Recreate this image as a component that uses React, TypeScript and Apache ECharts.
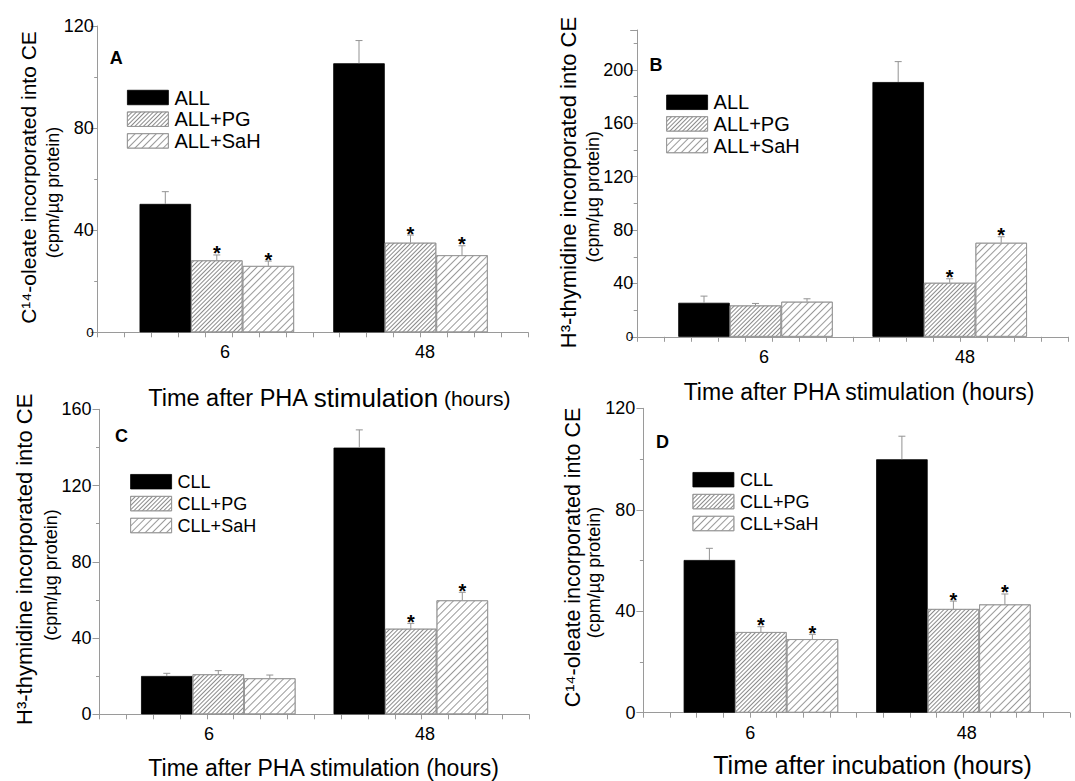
import React, { useEffect, useRef } from 'react';
import * as echarts from 'echarts';

const FONT = '"Liberation Sans", Arial, Helvetica, sans-serif';
const GROUPS = ['6', '48'];
const NAMES_ALL = ['ALL', 'ALL+PG', 'ALL+SaH'];
const NAMES_CLL = ['CLL', 'CLL+PG', 'CLL+SaH'];

// Panel A: C14-oleate, ALL, PHA stimulation
const A_ALL = [50.3, 105.4];
const A_ALL_ERR = [4.8, 8.9];
const A_PG = [28.2, 35.1];
const A_PG_ERR = [2.1, 3.0];
const A_SAH = [26.0, 30.2];
const A_SAH_ERR = [1.9, 3.7];
const A_ALL_STAR = [0, 0];
const A_PG_STAR = [1, 1];
const A_SAH_STAR = [1, 1];

// Panel B: H3-thymidine, ALL, PHA stimulation
const B_ALL = [25.5, 191.0];
const B_ALL_ERR = [5.0, 15.3];
const B_PG = [23.5, 40.5];
const B_PG_ERR = [1.5, 3.0];
const B_SAH = [26.3, 70.5];
const B_SAH_ERR = [2.2, 4.5];
const B_ALL_STAR = [0, 0];
const B_PG_STAR = [0, 1];
const B_SAH_STAR = [0, 1];

// Panel C: H3-thymidine, CLL, PHA stimulation
const C_CLL = [20.1, 139.9];
const C_CLL_ERR = [1.4, 9.3];
const C_PG = [21.0, 44.9];
const C_PG_ERR = [1.9, 2.8];
const C_SAH = [18.9, 59.8];
const C_SAH_ERR = [1.7, 4.2];
const C_CLL_STAR = [0, 0];
const C_PG_STAR = [0, 1];
const C_SAH_STAR = [0, 1];

// Panel D: C14-oleate, CLL, incubation
const D_CLL = [60.2, 99.9];
const D_CLL_ERR = [4.6, 9.1];
const D_PG = [31.8, 40.9];
const D_PG_ERR = [2.1, 3.1];
const D_SAH = [29.0, 42.7];
const D_SAH_ERR = [1.9, 4.1];
const D_CLL_STAR = [0, 0];
const D_PG_STAR = [1, 1];
const D_SAH_STAR = [1, 1];

const Y_MAX = { A: 120, B: 230, C: 160, D: 120 };
const Y_STEP = 40;

const OLEATE = 'C\u00B9\u2074-oleate incorporated into CE';
const THYMIDINE = 'H\u00B3-thymidine incorporated into CE';
const UNIT = '(cpm/\u00B5g protein)';
const X_PHA = 'Time after PHA stimulation (hours)';
const X_INC = 'Time after incubation (hours)';

const AXIS = '#9a9a9a';
const BORDER = '#939393';
const BAR_W = 51.5;

const STYLES = [
  { color: '#000', borderColor: '#000', borderWidth: 0.8 },
  {
    color: '#fff', borderColor: BORDER, borderWidth: 0.8,
    decal: { symbol: 'rect', symbolSize: 1, dashArrayX: [1, 0], dashArrayY: [0.8, 1.9], rotation: -Math.PI / 4, color: '#8a8a8a' },
  },
  {
    color: '#fff', borderColor: BORDER, borderWidth: 0.8,
    decal: { symbol: 'rect', symbolSize: 1, dashArrayX: [1, 0], dashArrayY: [0.8, 3.4], rotation: -Math.PI / 4, color: '#9a9a9a' },
  },
];

const panels = [
  {
    key: 'A', names: NAMES_ALL, values: [A_ALL, A_PG, A_SAH], errs: [A_ALL_ERR, A_PG_ERR, A_SAH_ERR],
    stars: [A_ALL_STAR, A_PG_STAR, A_SAH_STAR], yMax: Y_MAX.A, smallZero: true, labelMargin: 4,
    L: 97.7, R: 528, T: 26, B: 332.3, groups: [216.8, 410.5], labels: [225, 425],
    legend: { left: 127, top: 87.5, font: 20, gap: 1.7 }, letter: [116.3, 57.5],
    yMain: { text: OLEATE, x: 28, y: 177.5, size: 21 }, ySub: { x: 53, y: 192.5, size: 18 },
    xTitle: { x: 329, y: 398.3, rich: true, text: X_PHA, size: 23 },
  },
  {
    key: 'B', names: NAMES_ALL, values: [B_ALL, B_PG, B_SAH], errs: [B_ALL_ERR, B_PG_ERR, B_SAH_ERR],
    stars: [B_ALL_STAR, B_PG_STAR, B_SAH_STAR], yMax: Y_MAX.B, smallZero: true, hideMax: true, labelMargin: 4,
    L: 637.2, R: 1068.3, T: 30, B: 336.8, groups: [755.5, 949.7], labels: [764, 965],
    legend: { left: 666.2, top: 92.3, font: 20, gap: 1.6 }, letter: [656, 64.5],
    yMain: { text: THYMIDINE, x: 568, y: 182.5, size: 22 }, ySub: { x: 593, y: 196.7, size: 18 },
    xTitle: { x: 859, y: 391.7, text: X_PHA, size: 23 },
  },
  {
    key: 'C', names: NAMES_CLL, values: [C_CLL, C_PG, C_SAH], errs: [C_CLL_ERR, C_PG_ERR, C_SAH_ERR],
    stars: [C_CLL_STAR, C_PG_STAR, C_SAH_STAR], yMax: Y_MAX.C, labelMargin: 8,
    L: 99.5, R: 529, T: 409.3, B: 714.3, groups: [218.3, 410.8], labels: [209, 425],
    legend: { left: 130.2, top: 472.7, font: 18, gap: 3.9 }, letter: [121.4, 436.3],
    yMain: { text: THYMIDINE, x: 24.5, y: 559.3, size: 22 }, ySub: { x: 50.8, y: 575, size: 18 },
    xTitle: { x: 323.7, y: 768.3, text: X_PHA, size: 23 },
  },
  {
    key: 'D', names: NAMES_CLL, values: [D_CLL, D_PG, D_SAH], errs: [D_CLL_ERR, D_PG_ERR, D_SAH_ERR],
    stars: [D_CLL_STAR, D_PG_STAR, D_SAH_STAR], yMax: Y_MAX.D, labelMargin: 8,
    L: 643.4, R: 1069.8, T: 408.3, B: 712.7, groups: [760.9, 953.4], labels: [751.5, 970.6],
    legend: { left: 692.5, top: 470.7, font: 18, gap: 3.9 }, letter: [662.5, 442],
    yMain: { text: OLEATE, x: 573.3, y: 557.5, size: 21.5 }, ySub: { x: 593.7, y: 572.5, size: 18 },
    xTitle: { x: 872.6, y: 765, text: X_INC, size: 25 },
  },
];

function fontStr(size: number, bold?: boolean) {
  return `${bold ? 'bold ' : ''}${size}px ${FONT}`;
}

function textEl(text: string, x: number, y: number, size: number, extra: any = {}) {
  const style: any = {
    text, fill: '#000', font: fontStr(size, extra.bold),
    fontSize: size, fontFamily: FONT, fontWeight: extra.bold ? 'bold' : 'normal',
    align: 'center', verticalAlign: 'middle', textAlign: 'center', textVerticalAlign: 'middle',
    legacy: false,
  };
  if (extra.rich) style.rich = extra.rich;
  return { type: 'text', x, y, rotation: extra.rotation || 0, z: 10, style };
}

function buildOption() {
  const grid: any[] = [];
  const xAxis: any[] = [];
  const yAxis: any[] = [];
  const series: any[] = [];
  const legend: any[] = [];
  const graphic: any[] = [];

  panels.forEach((p) => {
    // frame grid (visible axes)
    const gF = grid.length;
    grid.push({ left: p.L, top: p.T, width: p.R - p.L, height: p.B - p.T });
    xAxis.push({
      gridIndex: gF, type: 'value', min: 0, max: 16, interval: 1,
      axisLine: { show: true, onZero: false, lineStyle: { color: AXIS, width: 1 } },
      axisTick: { show: true, length: 5, lineStyle: { color: AXIS } },
      axisLabel: { show: false }, splitLine: { show: false },
    });
    yAxis.push({
      gridIndex: gF, type: 'value', min: 0, max: p.yMax, interval: Y_STEP,
      axisLine: { show: true, lineStyle: { color: AXIS, width: 1 } },
      axisTick: { show: true, length: 7, lineStyle: { color: AXIS } },
      minorTick: { show: true, splitNumber: 2, length: 3.5, lineStyle: { color: AXIS } },
      splitLine: { show: false }, minorSplitLine: { show: false },
      axisLabel: {
        color: '#000', fontSize: 18, fontFamily: FONT, margin: p.labelMargin,
        showMaxLabel: !p.hideMax,
        formatter: (v: number) => (v === 0 && p.smallZero ? '{s|0}' : String(v)),
        rich: { s: { fontSize: 13.5, fontFamily: FONT, color: '#000' } },
      },
    });

    // bar grid (hidden axes)
    const gB = grid.length;
    const [c1, c2] = p.groups;
    grid.push({ left: c1 - (c2 - c1) / 2, top: p.T, width: 2 * (c2 - c1), height: p.B - p.T });
    xAxis.push({ gridIndex: gB, type: 'category', data: GROUPS, show: false });
    yAxis.push({ gridIndex: gB, type: 'value', min: 0, max: p.yMax, show: false });

    // label grid (category labels only)
    const gL = grid.length;
    const [l1, l2] = p.labels;
    grid.push({ left: l1 - (l2 - l1) / 2, top: p.T, width: 2 * (l2 - l1), height: p.B - p.T });
    xAxis.push({
      gridIndex: gL, type: 'category', data: GROUPS,
      axisLine: { show: false }, axisTick: { show: false },
      axisLabel: { color: '#000', fontSize: 18, fontFamily: FONT, margin: 11 },
    });
    yAxis.push({ gridIndex: gL, type: 'value', min: 0, max: p.yMax, show: false });

    const errRows: any[] = [];
    p.names.forEach((name, k) => {
      series.push({
        type: 'bar', name, xAxisIndex: gB, yAxisIndex: gB,
        data: p.values[k], barWidth: BAR_W, barGap: '0%',
        itemStyle: STYLES[k], emphasis: { disabled: true }, z: 2,
      });
      p.values[k].forEach((v, i) => errRows.push([i, v, p.errs[k][i], p.stars[k][i], k]));
    });

    series.push({
      type: 'custom', xAxisIndex: gB, yAxisIndex: gB, z: 5, silent: true,
      data: errRows, encode: { x: 0, y: 1 },
      renderItem: (params: any, api: any) => {
        const cat = api.value(0);
        const v = api.value(1);
        const e = api.value(2);
        const star = api.value(3);
        const k = api.value(4);
        const p0 = api.coord([cat, v]);
        const p1 = api.coord([cat, v + e]);
        const x = p0[0] + (k - 1) * BAR_W;
        const children: any[] = [
          { type: 'line', shape: { x1: x, y1: p0[1], x2: x, y2: p1[1] }, style: { stroke: BORDER, lineWidth: 1 } },
          { type: 'line', shape: { x1: x - 3.5, y1: p1[1], x2: x + 3.5, y2: p1[1] }, style: { stroke: BORDER, lineWidth: 1 } },
        ];
        if (star) {
          children.push({
            type: 'text', x, y: p1[1] - 1.5,
            style: {
              text: '*', fill: '#000', font: fontStr(20, true), fontSize: 20, fontWeight: 'bold', fontFamily: FONT,
              align: 'center', verticalAlign: 'middle', textAlign: 'center', textVerticalAlign: 'middle',
              legacy: false,
            },
          });
        }
        return { type: 'group', children };
      },
    });

    legend.push({
      orient: 'vertical', left: p.legend.left, top: p.legend.top, padding: 0,
      itemWidth: 41, itemHeight: 14.5, itemGap: p.legend.gap, icon: 'rect',
      data: p.names, selectedMode: false,
      itemStyle: { borderWidth: 0.8 },
      textStyle: { fontSize: p.legend.font, fontFamily: FONT, color: '#000', padding: [0, 0, 0, 1] },
    });

    graphic.push(textEl(p.key, p.letter[0], p.letter[1], 18, { bold: true }));
    graphic.push(textEl(p.yMain.text, p.yMain.x, p.yMain.y, p.yMain.size, { rotation: Math.PI / 2 }));
    graphic.push(textEl(UNIT, p.ySub.x, p.ySub.y, p.ySub.size, { rotation: Math.PI / 2 }));
    if (p.xTitle.rich) {
      graphic.push(textEl('{a|Time after PHA }{b|stimulation}{c| (hours)}', p.xTitle.x, p.xTitle.y, 23, {
        rich: {
          a: { fontSize: 23.5, fontFamily: FONT, fill: '#000' },
          b: { fontSize: 26, fontFamily: FONT, fill: '#000' },
          c: { fontSize: 21, fontFamily: FONT, fill: '#000' },
        },
      }));
    } else {
      graphic.push(textEl(p.xTitle.text, p.xTitle.x, p.xTitle.y, p.xTitle.size));
    }
  });

  return {
    animation: false,
    backgroundColor: '#fff',
    grid, xAxis, yAxis, series, legend, graphic,
  };
}

export default function App() {
  const ref = useRef<HTMLDivElement>(null);
  useEffect(() => {
    if (!ref.current) return;
    const chart = echarts.init(ref.current, undefined, { renderer: 'svg' });
    chart.setOption(buildOption() as any);
    return () => chart.dispose();
  }, []);
  return (
    <div
      ref={ref}
      style={{ position: 'fixed', left: 0, top: 0, width: 1075, height: 781, background: '#fff' }}
    />
  );
}
